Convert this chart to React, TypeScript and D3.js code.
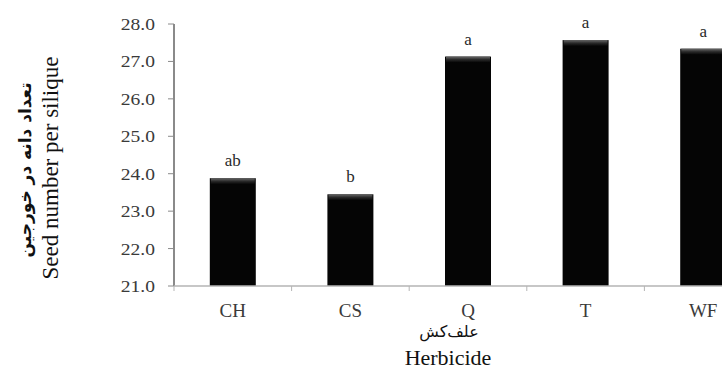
import React from "react";
import * as d3 from "d3";

const categories = ["CH", "CS", "Q", "T", "WF"];
const seedValues = [23.88, 23.45, 27.13, 27.57, 27.34];
const groupLetters = ["ab", "b", "a", "a", "a"];
const yTicks = [21, 22, 23, 24, 25, 26, 27, 28];
const yTitleEn = "Seed number per silique";
const yTitleFa = "تعداد دانه در خورجین";
const xTitleFa = "علف‌کش";
const xTitleEn = "Herbicide";

const W = 722;
const H = 370;
const left = 174;
const top = 24;
const bottom = 286;
const step = 117.6;

const serifStyle = { fontFamily: "Liberation Serif, 'Times New Roman', 'DejaVu Serif', serif" };
const arabicStyle = { fontFamily: "'DejaVu Sans', 'Noto Sans', sans-serif" };

export default function App() {
  const x = d3
    .scaleBand<string>()
    .domain(categories)
    .range([left, left + step * categories.length])
    .paddingInner(0.609)
    .paddingOuter(0.3045);
  const y = d3.scaleLinear().domain([21, 28]).range([bottom, top]);
  const fmt = d3.format(".1f");
  const bw = x.bandwidth();
  const boundaries = d3.range(categories.length + 1).map((i) => left + i * x.step());

  return (
    <div style={{ position: "absolute", left: 0, top: 0 }}>
      <svg width={W} height={H} style={{ display: "block", background: "#fff" }}>
        <defs>
          <linearGradient id="bevel" x1="0" y1="0" x2="0" y2="1">
            <stop offset="0" stopColor="#6a6a6a" />
            <stop offset="0.5" stopColor="#2a2a2a" />
            <stop offset="1" stopColor="#050505" />
          </linearGradient>
        </defs>
        {/* Y axis */}
        <line x1={left} x2={left} y1={y(28)} y2={y(21)} stroke="#8a8a8a" strokeWidth={2} />
        {yTicks.map((t) => (
          <g key={t}>
            <line x1={left - 6} x2={left} y1={y(t)} y2={y(t)} stroke="#8a8a8a" strokeWidth={1} />
            <text
              transform={`translate(${left - 19},${y(t) + 6}) scale(1.15,1)`}
              textAnchor="end"
              style={serifStyle}
              fontSize={17}
              fill="#3a3a3a"
            >
              {fmt(t)}
            </text>
          </g>
        ))}
        {/* bars */}
        {categories.map((c, i) => {
          const bx = x(c)!;
          const by = y(seedValues[i]);
          return (
            <g key={c}>
              <rect x={bx} y={by} width={bw} height={bottom - by} fill="#050505" />
              <rect x={bx + 1} y={by} width={bw - 2} height={6} fill="url(#bevel)" />
              <text
                x={bx + bw / 2}
                y={by - 12}
                textAnchor="middle"
                style={serifStyle}
                fontSize={17}
                fill="#2a2a2a"
              >
                {groupLetters[i]}
              </text>
              <text
                x={bx + bw / 2}
                y={316.5}
                textAnchor="middle"
                style={serifStyle}
                fontSize={19}
                fill="#3a3a3a"
              >
                {c}
              </text>
            </g>
          );
        })}
        {/* X axis */}
        <line x1={left} x2={left + step * categories.length} y1={bottom} y2={bottom} stroke="#b5b5b5" strokeWidth={1.5} />
        {boundaries.map((bx, i) => (
          <line key={i} x1={bx} x2={bx} y1={bottom} y2={bottom + 5} stroke="#b5b5b5" strokeWidth={1} />
        ))}
        {/* titles */}
        <text
          transform={`translate(57.5,168) rotate(-90)`}
          textAnchor="middle"
          style={serifStyle}
          fontSize={23}
          fill="#111"
        >
          {yTitleEn}
        </text>
        <text
          transform={`translate(31,170) rotate(-90)`}
          textAnchor="middle"
          style={arabicStyle}
          fontWeight="bold"
          fontSize={17}
          fill="#111"
          direction="rtl"
        >
          {yTitleFa}
        </text>
        <text
          x={449}
          y={337}
          textAnchor="middle"
          style={arabicStyle}
          fontSize={16}
          fill="#111"
          direction="rtl"
        >
          {xTitleFa}
        </text>
        <text x={448} y={365} textAnchor="middle" style={serifStyle} fontSize={22} fill="#111">
          {xTitleEn}
        </text>
      </svg>
    </div>
  );
}
